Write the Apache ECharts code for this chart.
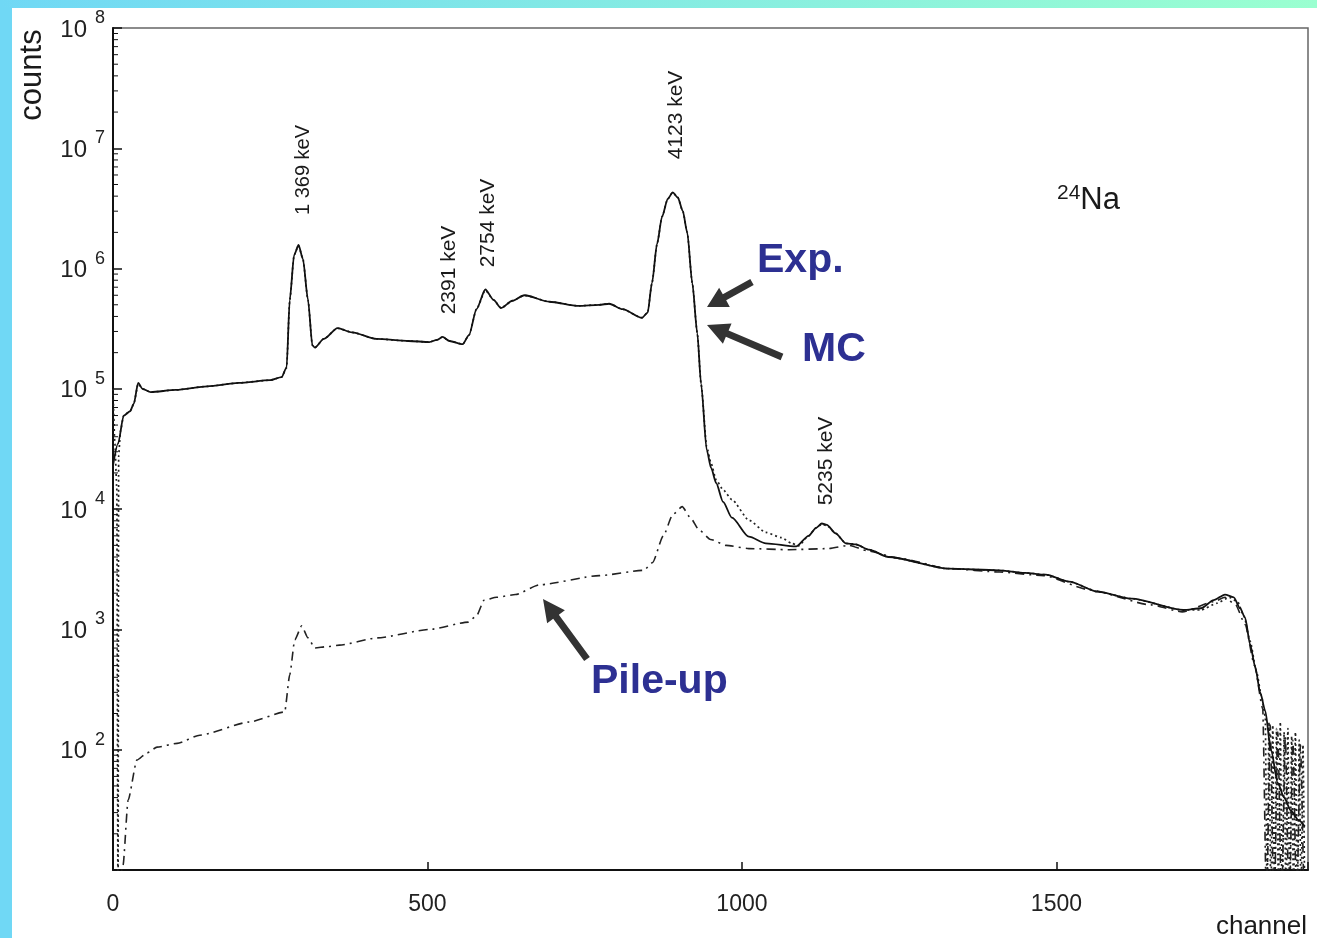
<!DOCTYPE html>
<html>
<head>
<meta charset="utf-8">
<script src="https://cdn.jsdelivr.net/npm/echarts@6/dist/echarts.min.js"></script>
<style>
html,body{margin:0;padding:0;background:#fff;}
#chart{width:1317px;height:938px;}
</style>
</head>
<body>
<div id="chart"></div>
<script>
// ---------- DATA ----------
const expCh = [0, 8, 17, 27, 33, 40, 47, 60, 100, 150, 200, 250, 268, 276, 281, 288, 295, 302, 310, 317, 321, 335, 357, 380, 419, 470, 503, 515, 524, 535, 556, 566, 578, 592, 605, 617, 635, 654, 694, 740, 773, 789, 810, 841, 850, 857, 865, 873, 882, 890, 898, 906, 913, 921, 929, 935, 944, 951, 959, 970, 984, 1011, 1038, 1086, 1106, 1118, 1127, 1135, 1149, 1165, 1181, 1202, 1233, 1329, 1408, 1450, 1483, 1520, 1567, 1620, 1702, 1730, 1750, 1768, 1782, 1792, 1800, 1808, 1816, 1824, 1832, 1841, 1852, 1862, 1873, 1885, 1895];
const expVal = [2.3e4, 3.5e4, 6.0e4, 6.5e4, 7.5e4, 1.12e5, 1.0e5, 9.4e4, 9.8e4, 1.05e5, 1.12e5, 1.18e5, 1.25e5, 1.5e5, 5.5e5, 1.3e6, 1.57e6, 1.2e6, 5.5e5, 2.3e5, 2.2e5, 2.6e5, 3.2e5, 2.95e5, 2.6e5, 2.5e5, 2.45e5, 2.55e5, 2.7e5, 2.5e5, 2.35e5, 2.8e5, 4.6e5, 6.7e5, 5.5e5, 4.7e5, 5.4e5, 6.0e5, 5.3e5, 4.9e5, 5.0e5, 5.1e5, 4.6e5, 3.9e5, 4.3e5, 7.6e5, 1.6e6, 2.7e6, 3.8e6, 4.3e6, 3.9e6, 3.0e6, 2.0e6, 7.6e5, 2.9e5, 1.1e5, 3.1e4, 2.2e4, 1.65e4, 1.15e4, 8.5e3, 5.9e3, 5.2e3, 4.9e3, 6.0e3, 7.0e3, 7.6e3, 7.4e3, 6.3e3, 5.2e3, 5.1e3, 4.6e3, 4.0e3, 3.2e3, 3.1e3, 2.95e3, 2.85e3, 2.5e3, 2.05e3, 1.8e3, 1.45e3, 1.5e3, 1.75e3, 1.95e3, 1.85e3, 1.5e3, 1.25e3, 7.5e2, 4.9e2, 3.0e2, 2.1e2, 1.0e2, 53, 40, 31, 26, 23];

const mcCh = [0, 3, 6, 8, 9, 12, 17, 27, 33, 40, 47, 60, 100, 150, 200, 250, 268, 276, 281, 288, 295, 302, 310, 317, 321, 335, 357, 380, 419, 470, 503, 515, 524, 535, 556, 566, 578, 592, 605, 617, 635, 654, 694, 740, 773, 789, 810, 841, 850, 857, 865, 873, 882, 890, 898, 906, 913, 921, 929, 935, 944, 951, 959, 970, 984, 1011, 1038, 1063, 1079, 1090, 1106, 1118, 1127, 1135, 1149, 1165, 1181, 1202, 1233, 1329, 1408, 1450, 1483, 1520, 1567, 1620, 1702, 1730, 1755, 1775, 1788, 1798, 1808, 1818, 1826, 1832, 1835, 1838, 1841, 1844, 1847, 1850, 1853, 1856, 1859, 1862, 1865, 1868, 1871, 1874, 1877, 1880, 1883, 1886, 1889, 1892, 1895];
const mcVal = [1.0e5, 3.5e4, 1.5e4, 4, 2.8e4, 4.5e4, 6.0e4, 6.5e4, 7.5e4, 1.1e5, 1.0e5, 9.4e4, 9.8e4, 1.05e5, 1.12e5, 1.18e5, 1.25e5, 1.5e5, 5.4e5, 1.3e6, 1.55e6, 1.2e6, 5.5e5, 2.3e5, 2.2e5, 2.6e5, 3.2e5, 2.95e5, 2.6e5, 2.5e5, 2.45e5, 2.55e5, 2.7e5, 2.5e5, 2.35e5, 2.8e5, 4.6e5, 6.6e5, 5.5e5, 4.7e5, 5.4e5, 6.0e5, 5.3e5, 4.9e5, 5.0e5, 5.1e5, 4.6e5, 3.9e5, 4.3e5, 7.6e5, 1.6e6, 2.7e6, 3.8e6, 4.3e6, 3.9e6, 3.0e6, 2.0e6, 7.6e5, 2.9e5, 1.1e5, 3.3e4, 2.4e4, 1.75e4, 1.45e4, 1.2e4, 8.1e3, 6.4e3, 5.8e3, 5.2e3, 4.95e3, 6.0e3, 7.0e3, 7.5e3, 7.3e3, 6.3e3, 5.2e3, 5.1e3, 4.6e3, 4.0e3, 3.2e3, 3.1e3, 2.95e3, 2.85e3, 2.5e3, 2.05e3, 1.8e3, 1.45e3, 1.45e3, 1.65e3, 1.85e3, 1.7e3, 1.3e3, 8.0e2, 4.5e2, 2.8e2, 1.9e2, 6, 170, 5, 160, 4, 150, 6, 170, 4, 140, 5, 150, 4, 130, 6, 140, 4, 120, 5, 110, 4];

const puCh = [6, 16, 24, 38, 54, 70, 102, 138, 217, 273, 281, 289, 300, 310, 321, 340, 360, 420, 503, 565, 578, 590, 610, 640, 678, 773, 844, 858, 875, 890, 905, 918, 932, 950, 975, 1011, 1075, 1138, 1170, 1200, 1250, 1330, 1410, 1480, 1550, 1650, 1700, 1750, 1768, 1785, 1800, 1815, 1828, 1834, 1840, 1846, 1852, 1858, 1864, 1870, 1876, 1882, 1888, 1894];
const puVal = [5, 11, 38, 82, 94, 105, 113, 132, 170, 206, 420, 820, 1070, 850, 700, 720, 740, 850, 1000, 1150, 1300, 1750, 1850, 1950, 2350, 2800, 3100, 3600, 6000, 9000, 10500, 8500, 6700, 5600, 5000, 4700, 4600, 4700, 5000, 4500, 3900, 3200, 3000, 2800, 2150, 1600, 1400, 1700, 1850, 1600, 1100, 500, 220, 5, 160, 4, 140, 5, 130, 4, 120, 5, 110, 4];

const peakLabels = ['1 369 keV', '2391 keV', '2754 keV', '4123 keV', '5235 keV'];
const xTicks = [0, 500, 1000, 1500];
const yDecades = [1, 2, 3, 4, 5, 6, 7, 8];

// ---------- helpers ----------
const FONT = "'Liberation Sans', Arial, sans-serif";
const pair = (xs, ys) => xs.map((x, i) => [x, ys[i]]);
const minorVals = [];
yDecades.slice(0, -1).forEach(d => { for (let m = 2; m <= 9; m++) minorVals.push([0, m * Math.pow(10, d)]); });

function arrow(tail, tip, shaftW, headW, headL, color) {
  const dx = tip[0] - tail[0], dy = tip[1] - tail[1];
  const L = Math.hypot(dx, dy), ux = dx / L, uy = dy / L, nx = -uy, ny = ux;
  const bx = tip[0] - ux * headL, by = tip[1] - uy * headL;
  const pts = [
    [tail[0] + nx * shaftW / 2, tail[1] + ny * shaftW / 2],
    [bx + nx * shaftW / 2, by + ny * shaftW / 2],
    [bx + nx * headW / 2, by + ny * headW / 2],
    tip,
    [bx - nx * headW / 2, by - ny * headW / 2],
    [bx - nx * shaftW / 2, by - ny * shaftW / 2],
    [tail[0] - nx * shaftW / 2, tail[1] - ny * shaftW / 2]
  ];
  return { type: 'polygon', shape: { points: pts }, style: { fill: color }, z: 100 };
}
function vtext(text, x, y, size) {
  return { type: 'text', x: x, y: y, rotation: Math.PI / 2, z: 100,
    style: { text: text, fontSize: size, fontFamily: FONT, fill: '#1a1a1a', align: 'center', verticalAlign: 'middle' } };
}
function btext(text, x, y) {
  return { type: 'text', x: x, y: y, z: 100,
    style: { text: text, fontSize: 41, fontWeight: 'bold', fontFamily: FONT, fill: '#2d3092', align: 'left', verticalAlign: 'top' } };
}

const chart = echarts.init(document.getElementById('chart'));
const option = {
  backgroundColor: '#ffffff',
  animation: false,
  grid: { left: 113, top: 28, right: 9, bottom: 68, show: true, borderColor: '#666', borderWidth: 1.5, backgroundColor: 'transparent' },
  xAxis: {
    type: 'value', min: 0, max: 1900, interval: 500,
    axisLine: { show: true, lineStyle: { color: '#111', width: 2 } },
    axisTick: { show: true, inside: true, length: 8, lineStyle: { color: '#111', width: 1.5 } },
    axisLabel: { margin: 23, fontSize: 23, fontFamily: FONT, color: '#222',
      formatter: v => (xTicks.indexOf(v) >= 0 ? String(v) : '') },
    splitLine: { show: false }
  },
  yAxis: {
    type: 'log', logBase: 10, min: 10, max: 1e8,
    axisLine: { show: true, lineStyle: { color: '#111', width: 2 } },
    axisTick: { show: true, inside: true, length: 9, lineStyle: { color: '#111', width: 1.5 } },
    axisLabel: {
      margin: 8, fontFamily: FONT, color: '#222',
      formatter: v => { const e = Math.round(Math.log10(v)); return e < 2 ? '' : '{a|10}{b|' + e + '}'; },
      rich: {
        a: { fontSize: 24, fontFamily: FONT, color: '#222', padding: [4, 0, 0, 0] },
        b: { fontSize: 18, fontFamily: FONT, color: '#222', padding: [0, 0, 20, 8] }
      }
    },
    splitLine: { show: false }
  },
  graphic: [
    { type: 'rect', shape: { x: 0, y: 0, width: 12, height: 938 }, style: { fill: '#70d8f5' }, z: 200 },
    { type: 'rect', shape: { x: 0, y: 0, width: 1317, height: 8 },
      style: { fill: new echarts.graphic.LinearGradient(0, 0, 1, 0, [{ offset: 0, color: '#70d8f5' }, { offset: 1, color: '#9affd0' }]) }, z: 200 },
    vtext(peakLabels[0], 303, 170, 20),
    vtext(peakLabels[1], 449, 270, 21),
    vtext(peakLabels[2], 488, 223, 21),
    vtext(peakLabels[3], 676, 115, 21),
    vtext(peakLabels[4], 826, 461, 21),
    { type: 'text', x: 1057, y: 183, z: 100,
      style: { text: '{s|24}{n|Na}', fontFamily: FONT, fill: '#1a1a1a', align: 'left', verticalAlign: 'top',
        rich: { s: { fontSize: 21, fontFamily: FONT, padding: [0, 0, 14, 0] }, n: { fontSize: 31, fontFamily: FONT } } } },
    btext('Exp.', 757, 240),
    btext('MC', 802, 329),
    btext('Pile-up', 591, 661),
    arrow([752, 282], [707, 307], 7, 22, 20, '#333'),
    arrow([782, 357], [707, 325], 7, 22, 22, '#333'),
    arrow([587, 659], [543, 599], 7, 22, 22, '#333'),
    { type: 'text', x: 32, y: 75, rotation: Math.PI / 2, z: 100,
      style: { text: 'counts', fontSize: 31, fontFamily: FONT, fill: '#1a1a1a', align: 'center', verticalAlign: 'middle' } },
    { type: 'text', x: 1307, y: 914, z: 100,
      style: { text: 'channel', fontSize: 26, fontFamily: FONT, fill: '#1a1a1a', align: 'right', verticalAlign: 'top' } }
  ],
  series: [
    { name: 'Pile-up', type: 'line', data: pair(puCh, puVal), showSymbol: false, smooth: 0.2, smoothMonotone: 'x',
      lineStyle: { color: '#222', width: 1.6, type: [9, 5, 2, 5] }, z: 3 },
    { name: 'MC', type: 'line', data: pair(mcCh, mcVal), showSymbol: false, smooth: 0.2, smoothMonotone: 'x',
      lineStyle: { color: '#222', width: 1.7, type: [2, 3] }, z: 4 },
    { name: 'Exp.', type: 'line', data: pair(expCh, expVal), showSymbol: false, smooth: 0.25, smoothMonotone: 'x',
      lineStyle: { color: '#111', width: 1.8 }, z: 5 },
    { name: 'minorTicks', type: 'custom', data: minorVals, silent: true, z: 6,
      renderItem: (params, api) => {
        const p = api.coord([0, api.value(1)]);
        return { type: 'line', shape: { x1: p[0], y1: p[1], x2: p[0] + 5, y2: p[1] }, style: { stroke: '#111', lineWidth: 1 } };
      } }
  ]
};
chart.setOption(option);
</script>
</body>
</html>
